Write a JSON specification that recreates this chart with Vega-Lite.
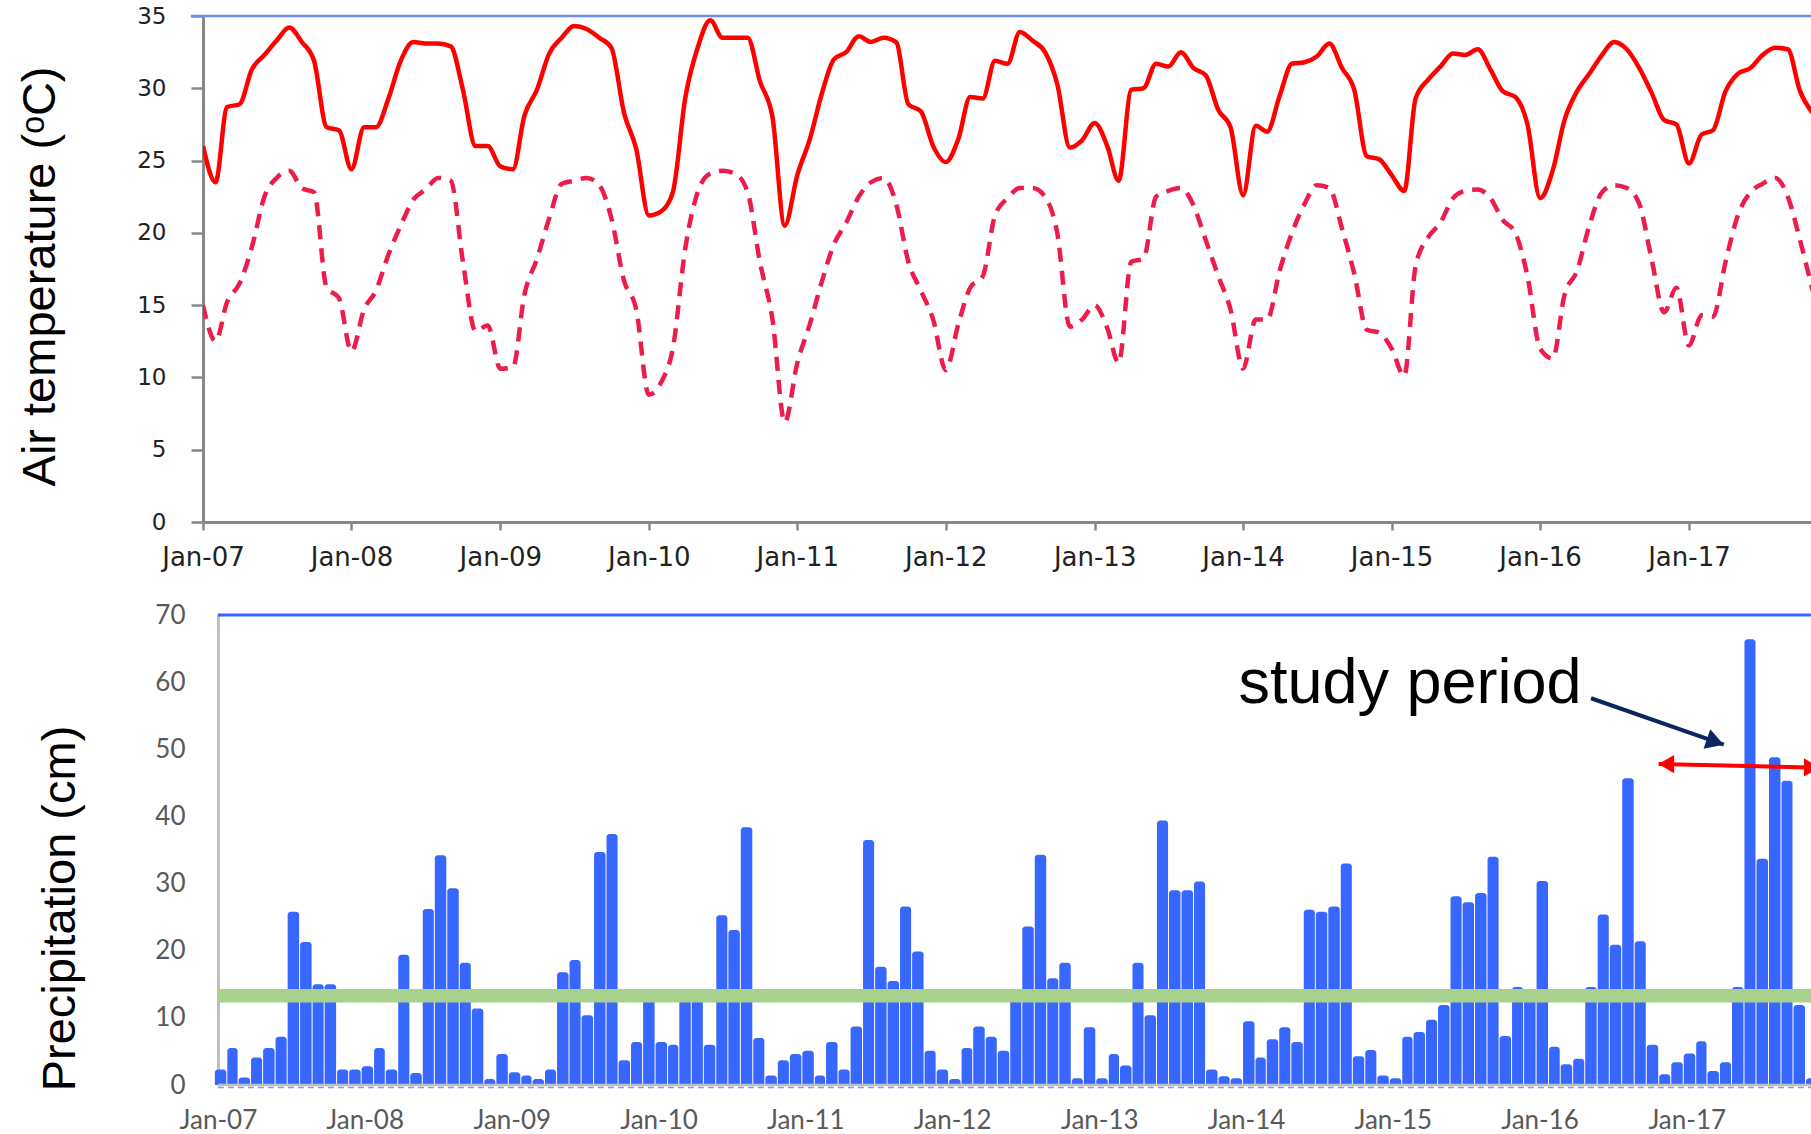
{
  "$schema": "https://vega.github.io/schema/vega-lite/v6.json",
  "background": "white",
  "padding": {"left": 15, "top": 5, "right": 0, "bottom": 0},
  "spacing": 93,
  "bounds": "flush",
  "config": {"view": {"stroke": null}},
  "datasets": {
    "temp": [
      {"date":"2007-01-01","tmax":26.0,"tmin":15.0},{"date":"2007-02-01","tmax":23.5,"tmin":12.5},{"date":"2007-03-01","tmax":28.7,"tmin":15.2},{"date":"2007-04-01","tmax":28.9,"tmin":16.5},{"date":"2007-05-01","tmax":31.3,"tmin":19.0},{"date":"2007-06-01","tmax":32.3,"tmin":22.5},{"date":"2007-07-01","tmax":33.3,"tmin":23.8},{"date":"2007-08-01","tmax":34.2,"tmin":24.3},{"date":"2007-09-01","tmax":33.2,"tmin":23.1},{"date":"2007-10-01","tmax":31.9,"tmin":22.8},{"date":"2007-11-01","tmax":27.3,"tmin":16.2},{"date":"2007-12-01","tmax":27.1,"tmin":15.5},
      {"date":"2008-01-01","tmax":24.4,"tmin":11.8},{"date":"2008-02-01","tmax":27.3,"tmin":14.7},{"date":"2008-03-01","tmax":27.3,"tmin":16.0},{"date":"2008-04-01","tmax":29.3,"tmin":18.5},{"date":"2008-05-01","tmax":31.9,"tmin":20.5},{"date":"2008-06-01","tmax":33.2,"tmin":22.3},{"date":"2008-07-01","tmax":33.1,"tmin":23.0},{"date":"2008-08-01","tmax":33.1,"tmin":23.8},{"date":"2008-09-01","tmax":32.9,"tmin":23.6},{"date":"2008-10-01","tmax":29.9,"tmin":18.0},{"date":"2008-11-01","tmax":26.0,"tmin":13.2},{"date":"2008-12-01","tmax":26.0,"tmin":13.6},
      {"date":"2009-01-01","tmax":24.6,"tmin":10.6},{"date":"2009-02-01","tmax":24.4,"tmin":10.7},{"date":"2009-03-01","tmax":28.1,"tmin":15.7},{"date":"2009-04-01","tmax":29.9,"tmin":18.2},{"date":"2009-05-01","tmax":32.4,"tmin":21.0},{"date":"2009-06-01","tmax":33.5,"tmin":23.4},{"date":"2009-07-01","tmax":34.3,"tmin":23.6},{"date":"2009-08-01","tmax":34.1,"tmin":23.8},{"date":"2009-09-01","tmax":33.5,"tmin":23.3},{"date":"2009-10-01","tmax":32.8,"tmin":21.0},{"date":"2009-11-01","tmax":28.3,"tmin":16.7},{"date":"2009-12-01","tmax":25.8,"tmin":14.7},
      {"date":"2010-01-01","tmax":21.2,"tmin":8.8},{"date":"2010-02-01","tmax":21.5,"tmin":9.7},{"date":"2010-03-01","tmax":22.8,"tmin":12.0},{"date":"2010-04-01","tmax":29.4,"tmin":19.0},{"date":"2010-05-01","tmax":32.8,"tmin":22.8},{"date":"2010-06-01","tmax":34.7,"tmin":24.1},{"date":"2010-07-01","tmax":33.5,"tmin":24.3},{"date":"2010-08-01","tmax":33.5,"tmin":24.1},{"date":"2010-09-01","tmax":33.5,"tmin":22.8},{"date":"2010-10-01","tmax":30.5,"tmin":18.0},{"date":"2010-11-01","tmax":28.0,"tmin":14.0},{"date":"2010-12-01","tmax":20.5,"tmin":6.9},
      {"date":"2011-01-01","tmax":24.0,"tmin":11.0},{"date":"2011-02-01","tmax":26.5,"tmin":13.7},{"date":"2011-03-01","tmax":29.5,"tmin":16.5},{"date":"2011-04-01","tmax":32.0,"tmin":19.2},{"date":"2011-05-01","tmax":32.5,"tmin":20.7},{"date":"2011-06-01","tmax":33.6,"tmin":22.5},{"date":"2011-07-01","tmax":33.2,"tmin":23.5},{"date":"2011-08-01","tmax":33.5,"tmin":23.8},{"date":"2011-09-01","tmax":33.2,"tmin":22.0},{"date":"2011-10-01","tmax":28.9,"tmin":18.0},{"date":"2011-11-01","tmax":28.4,"tmin":16.0},{"date":"2011-12-01","tmax":26.0,"tmin":14.0},
      {"date":"2012-01-01","tmax":24.9,"tmin":10.5},{"date":"2012-02-01","tmax":26.5,"tmin":13.7},{"date":"2012-03-01","tmax":29.4,"tmin":16.2},{"date":"2012-04-01","tmax":29.3,"tmin":17.0},{"date":"2012-05-01","tmax":31.9,"tmin":21.2},{"date":"2012-06-01","tmax":31.7,"tmin":22.4},{"date":"2012-07-01","tmax":33.9,"tmin":23.1},{"date":"2012-08-01","tmax":33.3,"tmin":23.1},{"date":"2012-09-01","tmax":32.5,"tmin":22.5},{"date":"2012-10-01","tmax":30.3,"tmin":20.0},{"date":"2012-11-01","tmax":25.9,"tmin":13.5},{"date":"2012-12-01","tmax":26.4,"tmin":14.0},
      {"date":"2013-01-01","tmax":27.6,"tmin":15.0},{"date":"2013-02-01","tmax":26.0,"tmin":13.4},{"date":"2013-03-01","tmax":23.6,"tmin":11.0},{"date":"2013-04-01","tmax":29.9,"tmin":18.0},{"date":"2013-05-01","tmax":30.0,"tmin":18.2},{"date":"2013-06-01","tmax":31.7,"tmin":22.5},{"date":"2013-07-01","tmax":31.5,"tmin":22.9},{"date":"2013-08-01","tmax":32.5,"tmin":23.1},{"date":"2013-09-01","tmax":31.4,"tmin":21.9},{"date":"2013-10-01","tmax":30.9,"tmin":19.5},{"date":"2013-11-01","tmax":28.5,"tmin":17.0},{"date":"2013-12-01","tmax":27.3,"tmin":14.7},
      {"date":"2014-01-01","tmax":22.6,"tmin":10.6},{"date":"2014-02-01","tmax":27.4,"tmin":14.0},{"date":"2014-03-01","tmax":27.0,"tmin":14.0},{"date":"2014-04-01","tmax":29.5,"tmin":17.4},{"date":"2014-05-01","tmax":31.7,"tmin":20.0},{"date":"2014-06-01","tmax":31.8,"tmin":22.0},{"date":"2014-07-01","tmax":32.2,"tmin":23.3},{"date":"2014-08-01","tmax":33.1,"tmin":23.1},{"date":"2014-09-01","tmax":31.4,"tmin":20.3},{"date":"2014-10-01","tmax":29.9,"tmin":17.2},{"date":"2014-11-01","tmax":25.3,"tmin":13.3},{"date":"2014-12-01","tmax":25.1,"tmin":13.1},
      {"date":"2015-01-01","tmax":24.0,"tmin":12.0},{"date":"2015-02-01","tmax":22.9,"tmin":10.1},{"date":"2015-03-01","tmax":29.3,"tmin":17.7},{"date":"2015-04-01","tmax":30.6,"tmin":19.7},{"date":"2015-05-01","tmax":31.5,"tmin":20.7},{"date":"2015-06-01","tmax":32.4,"tmin":22.4},{"date":"2015-07-01","tmax":32.3,"tmin":22.9},{"date":"2015-08-01","tmax":32.7,"tmin":23.0},{"date":"2015-09-01","tmax":31.3,"tmin":22.4},{"date":"2015-10-01","tmax":29.8,"tmin":20.9},{"date":"2015-11-01","tmax":29.4,"tmin":20.0},{"date":"2015-12-01","tmax":27.5,"tmin":17.0},
      {"date":"2016-01-01","tmax":22.4,"tmin":12.0},{"date":"2016-02-01","tmax":24.3,"tmin":11.3},{"date":"2016-03-01","tmax":27.8,"tmin":15.7},{"date":"2016-04-01","tmax":29.8,"tmin":17.4},{"date":"2016-05-01","tmax":31.0,"tmin":20.5},{"date":"2016-06-01","tmax":32.3,"tmin":22.8},{"date":"2016-07-01","tmax":33.2,"tmin":23.3},{"date":"2016-08-01","tmax":32.7,"tmin":23.1},{"date":"2016-09-01","tmax":31.4,"tmin":22.0},{"date":"2016-10-01","tmax":29.7,"tmin":18.2},{"date":"2016-11-01","tmax":27.8,"tmin":14.5},{"date":"2016-12-01","tmax":27.5,"tmin":16.2},
      {"date":"2017-01-01","tmax":24.8,"tmin":12.2},{"date":"2017-02-01","tmax":26.8,"tmin":14.3},{"date":"2017-03-01","tmax":27.1,"tmin":14.2},{"date":"2017-04-01","tmax":29.8,"tmin":18.0},{"date":"2017-05-01","tmax":31.0,"tmin":21.2},{"date":"2017-06-01","tmax":31.4,"tmin":22.8},{"date":"2017-07-01","tmax":32.3,"tmin":23.4},{"date":"2017-08-01","tmax":32.8,"tmin":23.8},{"date":"2017-09-01","tmax":32.7,"tmin":22.5},{"date":"2017-10-01","tmax":29.8,"tmin":19.5},{"date":"2017-11-01","tmax":28.3,"tmin":16.0}
    ],
    "precip": [
      {"date":"2007-01-01","p":2.3},{"date":"2007-02-01","p":5.5},{"date":"2007-03-01","p":1.1},{"date":"2007-04-01","p":4.1},{"date":"2007-05-01","p":5.5},{"date":"2007-06-01","p":7.2},{"date":"2007-07-01","p":25.8},{"date":"2007-08-01","p":21.3},{"date":"2007-09-01","p":15.0},{"date":"2007-10-01","p":15.0},{"date":"2007-11-01","p":2.3},{"date":"2007-12-01","p":2.3},
      {"date":"2008-01-01","p":2.8},{"date":"2008-02-01","p":5.5},{"date":"2008-03-01","p":2.3},{"date":"2008-04-01","p":19.4},{"date":"2008-05-01","p":1.8},{"date":"2008-06-01","p":26.2},{"date":"2008-07-01","p":34.2},{"date":"2008-08-01","p":29.3},{"date":"2008-09-01","p":18.2},{"date":"2008-10-01","p":11.4},{"date":"2008-11-01","p":0.9},{"date":"2008-12-01","p":4.6},
      {"date":"2009-01-01","p":1.9},{"date":"2009-02-01","p":1.4},{"date":"2009-03-01","p":0.9},{"date":"2009-04-01","p":2.3},{"date":"2009-05-01","p":16.8},{"date":"2009-06-01","p":18.6},{"date":"2009-07-01","p":10.4},{"date":"2009-08-01","p":34.7},{"date":"2009-09-01","p":37.4},{"date":"2009-10-01","p":3.7},{"date":"2009-11-01","p":6.4},{"date":"2009-12-01","p":13.0},
      {"date":"2010-01-01","p":6.4},{"date":"2010-02-01","p":6.0},{"date":"2010-03-01","p":13.0},{"date":"2010-04-01","p":13.0},{"date":"2010-05-01","p":6.0},{"date":"2010-06-01","p":25.3},{"date":"2010-07-01","p":23.1},{"date":"2010-08-01","p":38.4},{"date":"2010-09-01","p":7.0},{"date":"2010-10-01","p":1.4},{"date":"2010-11-01","p":3.7},{"date":"2010-12-01","p":4.6},
      {"date":"2011-01-01","p":5.1},{"date":"2011-02-01","p":1.4},{"date":"2011-03-01","p":6.4},{"date":"2011-04-01","p":2.3},{"date":"2011-05-01","p":8.7},{"date":"2011-06-01","p":36.5},{"date":"2011-07-01","p":17.6},{"date":"2011-08-01","p":15.5},{"date":"2011-09-01","p":26.6},{"date":"2011-10-01","p":19.9},{"date":"2011-11-01","p":5.1},{"date":"2011-12-01","p":2.3},
      {"date":"2012-01-01","p":0.9},{"date":"2012-02-01","p":5.5},{"date":"2012-03-01","p":8.7},{"date":"2012-04-01","p":7.2},{"date":"2012-05-01","p":5.1},{"date":"2012-06-01","p":13.0},{"date":"2012-07-01","p":23.6},{"date":"2012-08-01","p":34.3},{"date":"2012-09-01","p":15.9},{"date":"2012-10-01","p":18.2},{"date":"2012-11-01","p":1.0},{"date":"2012-12-01","p":8.6},
      {"date":"2013-01-01","p":1.0},{"date":"2013-02-01","p":4.6},{"date":"2013-03-01","p":2.9},{"date":"2013-04-01","p":18.2},{"date":"2013-05-01","p":10.4},{"date":"2013-06-01","p":39.4},{"date":"2013-07-01","p":29.0},{"date":"2013-08-01","p":29.0},{"date":"2013-09-01","p":30.3},{"date":"2013-10-01","p":2.3},{"date":"2013-11-01","p":1.3},{"date":"2013-12-01","p":1.0},
      {"date":"2014-01-01","p":9.5},{"date":"2014-02-01","p":4.1},{"date":"2014-03-01","p":6.8},{"date":"2014-04-01","p":8.6},{"date":"2014-05-01","p":6.4},{"date":"2014-06-01","p":26.1},{"date":"2014-07-01","p":25.8},{"date":"2014-08-01","p":26.6},{"date":"2014-09-01","p":33.0},{"date":"2014-10-01","p":4.3},{"date":"2014-11-01","p":5.2},{"date":"2014-12-01","p":1.4},
      {"date":"2015-01-01","p":1.0},{"date":"2015-02-01","p":7.2},{"date":"2015-03-01","p":7.9},{"date":"2015-04-01","p":9.7},{"date":"2015-05-01","p":11.9},{"date":"2015-06-01","p":28.1},{"date":"2015-07-01","p":27.2},{"date":"2015-08-01","p":28.6},{"date":"2015-09-01","p":34.0},{"date":"2015-10-01","p":7.3},{"date":"2015-11-01","p":14.6},{"date":"2015-12-01","p":13.0},
      {"date":"2016-01-01","p":30.4},{"date":"2016-02-01","p":5.7},{"date":"2016-03-01","p":3.1},{"date":"2016-04-01","p":3.9},{"date":"2016-05-01","p":14.6},{"date":"2016-06-01","p":25.4},{"date":"2016-07-01","p":20.9},{"date":"2016-08-01","p":45.7},{"date":"2016-09-01","p":21.4},{"date":"2016-10-01","p":6.0},{"date":"2016-11-01","p":1.6},{"date":"2016-12-01","p":3.4},
      {"date":"2017-01-01","p":4.7},{"date":"2017-02-01","p":6.5},{"date":"2017-03-01","p":2.1},{"date":"2017-04-01","p":3.4},{"date":"2017-05-01","p":14.6},{"date":"2017-06-01","p":66.4},{"date":"2017-07-01","p":33.7},{"date":"2017-08-01","p":48.8},{"date":"2017-09-01","p":45.3},{"date":"2017-10-01","p":11.9},{"date":"2017-11-01","p":1.0}
    ],
    "navy": [
      {"date":"2016-05-08","y":57.6},{"date":"2017-04-03","y":50.7}
    ],
    "red": [
      {"date":"2016-10-23","y":47.8},{"date":"2018-01-04","y":47.2}
    ],
    "one": [{"k": 1}]
  },
  "vconcat": [
    {
      "width": 1608,
      "height": 506,
      "data": {"name": "temp"},
      "layer": [
        {
          "mark": {"type": "line", "color": "#FF0000", "strokeWidth": 4.5, "interpolate": "monotone", "strokeJoin": "round", "clip": true},
          "encoding": {
            "x": {
              "field": "date", "type": "temporal",
              "scale": {"domain": [{"year": 2007, "month": 1, "date": 1}, {"year": 2017, "month": 10, "date": 28}]},
              "axis": {
                "format": "%b-%y",
                "values": [{"year":2007,"month":1,"date":1},{"year":2008,"month":1,"date":1},{"year":2009,"month":1,"date":1},{"year":2010,"month":1,"date":1},{"year":2011,"month":1,"date":1},{"year":2012,"month":1,"date":1},{"year":2013,"month":1,"date":1},{"year":2014,"month":1,"date":1},{"year":2015,"month":1,"date":1},{"year":2016,"month":1,"date":1},{"year":2017,"month":1,"date":1}],
                "title": null,
                "labelFont": "DejaVu Sans", "labelFontSize": 26, "labelColor": "#222222",
                "labelPadding": 14, "labelFlush": false, "labelOverlap": false,
                "domainColor": "#888888", "domainWidth": 3, "tickColor": "#888888",
                "tickWidth": 2.5, "tickSize": 8, "grid": false
              }
            },
            "y": {
              "field": "tmax", "type": "quantitative",
              "scale": {"domain": [0, 35], "nice": false},
              "axis": {
                "values": [0, 5, 10, 15, 20, 25, 30, 35],
                "title": "Air temperature (ᵒC)", "titleFont": "Liberation Sans", "titleFontSize": 47,
                "titleFontWeight": "normal", "titleColor": "#000000", "titleX": -149, "titleY": 260,
                "titleAlign": "center", "titleBaseline": "alphabetic",
                "labelFont": "DejaVu Sans", "labelFontSize": 23, "labelColor": "#222222",
                "labelPadding": 25, "tickSize": 12, "tickColor": "#888888", "tickWidth": 2.5,
                "domainColor": "#888888", "domainWidth": 3, "grid": false
              }
            }
          }
        },
        {
          "mark": {"type": "line", "color": "#EC1C4B", "strokeWidth": 4.5, "strokeDash": [14, 9], "interpolate": "monotone", "clip": true},
          "encoding": {
            "x": {"field": "date", "type": "temporal"},
            "y": {"field": "tmin", "type": "quantitative"}
          }
        },
        {
          "data": {"name": "one"},
          "mark": {"type": "rule", "color": "#6D8FF2", "strokeWidth": 2.5},
          "encoding": {
            "y": {"datum": 35, "type": "quantitative"},
            "x": {"datum": {"year": 2006, "month": 12, "date": 2}, "type": "temporal"},
            "x2": {"datum": {"year": 2017, "month": 10, "date": 28}}
          }
        }
      ]
    },
    {
      "width": 1608,
      "height": 470,
      "data": {"name": "precip"},
      "layer": [
        {
          "mark": {"type": "bar", "orient": "vertical", "color": "#3867FF", "timeUnitBandSize": 0.85, "xOffset": -4, "cornerRadiusTopLeft": 3, "cornerRadiusTopRight": 3, "clip": true},
          "encoding": {
            "x": {
              "field": "date", "timeUnit": "yearmonth", "type": "temporal",
              "scale": {"domain": [{"year": 2006, "month": 11, "date": 25}, {"year": 2017, "month": 11, "date": 6}]},
              "axis": {
                "format": "%b-%y",
                "values": [{"year":2007,"month":1,"date":1},{"year":2008,"month":1,"date":1},{"year":2009,"month":1,"date":1},{"year":2010,"month":1,"date":1},{"year":2011,"month":1,"date":1},{"year":2012,"month":1,"date":1},{"year":2013,"month":1,"date":1},{"year":2014,"month":1,"date":1},{"year":2015,"month":1,"date":1},{"year":2016,"month":1,"date":1},{"year":2017,"month":1,"date":1}],
                "title": null,
                "labelFont": "Lato", "labelFontSize": 26, "labelColor": "#595959",
                "labelPadding": 22, "ticks": false, "tickSize": 0, "domain": false,
                "labelFlush": false, "labelOverlap": false, "grid": false
              }
            },
            "y": {
              "field": "p", "type": "quantitative", "stack": null,
              "scale": {"domain": [0, 70], "nice": false},
              "axis": {
                "values": [0, 10, 20, 30, 40, 50, 60, 70], "offset": -15,
                "title": "Precipitation (cm)", "titleFont": "Liberation Sans", "titleFontSize": 47,
                "titleFontWeight": "normal", "titleColor": "#000000", "titleX": -144, "titleY": 293,
                "titleAlign": "center", "titleBaseline": "alphabetic",
                "labelFont": "Lato", "labelFontSize": 26, "labelColor": "#595959",
                "labelPadding": 33, "ticks": false, "tickSize": 0,
                "domainColor": "#BFBFBF", "domainWidth": 3, "grid": false
              }
            }
          }
        },
        {
          "data": {"name": "one"},
          "mark": {"type": "rule", "color": "#A9D18E", "strokeWidth": 13.5},
          "encoding": {
            "y": {"datum": 13.3, "type": "quantitative"},
            "x": {"datum": {"year": 2007, "month": 1, "date": 1}, "type": "temporal"},
            "x2": {"datum": {"year": 2017, "month": 11, "date": 6}}
          }
        },
        {
          "data": {"name": "one"},
          "mark": {"type": "rule", "color": "#3366FF", "strokeWidth": 3},
          "encoding": {
            "y": {"datum": 70, "type": "quantitative"},
            "x": {"datum": {"year": 2007, "month": 1, "date": 1}, "type": "temporal"},
            "x2": {"datum": {"year": 2017, "month": 11, "date": 6}}
          }
        },
        {
          "data": {"name": "one"},
          "mark": {"type": "rule", "color": "#BFBFBF", "strokeWidth": 2.5},
          "encoding": {
            "y": {"datum": 0, "type": "quantitative"},
            "x": {"datum": {"year": 2007, "month": 1, "date": 1}, "type": "temporal"},
            "x2": {"datum": {"year": 2017, "month": 11, "date": 6}}
          }
        },
        {
          "data": {"name": "one"},
          "mark": {"type": "rule", "color": "#7B9CF5", "strokeWidth": 1.5, "strokeDash": [6, 4], "yOffset": 2.5},
          "encoding": {
            "y": {"datum": 0, "type": "quantitative"},
            "x": {"datum": {"year": 2007, "month": 1, "date": 1}, "type": "temporal"},
            "x2": {"datum": {"year": 2017, "month": 11, "date": 6}}
          }
        },
        {
          "data": {"name": "one"},
          "mark": {"type": "text", "text": "study period", "font": "Liberation Sans", "fontSize": 63, "align": "left", "baseline": "alphabetic", "color": "#000000"},
          "encoding": {
            "x": {"datum": {"year": 2013, "month": 12, "date": 13}, "type": "temporal"},
            "y": {"datum": 56.9, "type": "quantitative"}
          }
        },
        {
          "data": {"name": "navy"},
          "mark": {"type": "line", "color": "#0B2560", "strokeWidth": 4, "clip": true},
          "encoding": {
            "x": {"field": "date", "type": "temporal"},
            "y": {"field": "y", "type": "quantitative"}
          }
        },
        {
          "data": {"name": "one"},
          "mark": {"type": "point", "shape": "triangle-right", "angle": 19.1, "size": 420, "filled": true, "opacity": 1, "color": "#0B2560", "clip": true},
          "encoding": {
            "x": {"datum": {"year": 2017, "month": 3, "date": 13}, "type": "temporal"},
            "y": {"datum": 51.1, "type": "quantitative"}
          }
        },
        {
          "data": {"name": "red"},
          "mark": {"type": "line", "color": "#FF0000", "strokeWidth": 4, "clip": true},
          "encoding": {
            "x": {"field": "date", "type": "temporal"},
            "y": {"field": "y", "type": "quantitative"}
          }
        },
        {
          "data": {"name": "one"},
          "mark": {"type": "point", "shape": "triangle-left", "size": 330, "filled": true, "opacity": 1, "color": "#FF0000", "clip": true},
          "encoding": {
            "x": {"datum": {"year": 2016, "month": 11, "date": 11}, "type": "temporal"},
            "y": {"datum": 47.8, "type": "quantitative"}
          }
        },
        {
          "data": {"name": "one"},
          "mark": {"type": "point", "shape": "triangle-right", "size": 330, "filled": true, "opacity": 1, "color": "#FF0000", "clip": true},
          "encoding": {
            "x": {"datum": {"year": 2017, "month": 11, "date": 8}, "type": "temporal"},
            "y": {"datum": 47.3, "type": "quantitative"}
          }
        }
      ]
    }
  ]
}
